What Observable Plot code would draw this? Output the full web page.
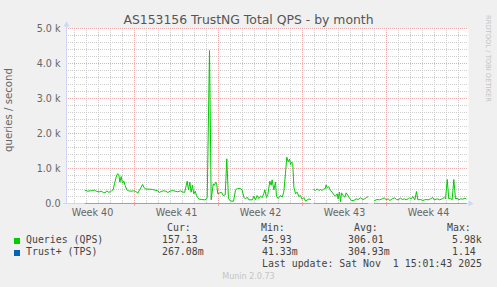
<!DOCTYPE html>
<html><head><meta charset="utf-8">
<script src="https://cdn.jsdelivr.net/npm/d3@7"></script>
<script src="https://cdn.jsdelivr.net/npm/@observablehq/plot@0.6"></script>
<style>
html,body{margin:0;padding:0;background:#f0f0f0;}
#wrap{position:relative;width:497px;height:287px;overflow:hidden;background:#f0f0f0;font-family:"DejaVu Sans",sans-serif;}
#chart{position:absolute;left:0;top:0;}
.t{position:absolute;white-space:pre;}
.m{font-family:"DejaVu Sans Mono",monospace;font-size:9.9px;line-height:12px;color:#444;}
</style></head><body><div id="wrap"><div id="chart"></div></div>
<script>
const title = "AS153156 TrustNG Total QPS - by month";
const yLabel = "queries / second";
const credit = "RRDTOOL / TOBI OETIKER";
const footer = "Munin 2.0.73";
const lastUpdate = "Last update: Sat Nov  1 15:01:43 2025";

// x in days since Monday Sep 29 2025 (start of Week 40)
const weekLabels = ["Week 40", "Week 41", "Week 42", "Week 43", "Week 44"];
const weekMid = [3.5, 10.5, 17.5, 24.5, 31.5];
const weekStarts = [7, 14, 21, 28];
const dayLines = [2,3,4,5,6,8,9,10,11,12,13,15,16,17,18,19,20,22,23,24,25,26,27,29,30,31,32,33,34];
const yTicks = [0, 1000, 2000, 3000, 4000, 5000];
const yTickLabels = ["0.0", "1.0 k", "2.0 k", "3.0 k", "4.0 k", "5.0 k"];
const yMinor = [200,400,600,800,1200,1400,1600,1800,2200,2400,2600,2800,3200,3400,3600,3800,4200,4400,4600,4800];

const qDay = [2.89,3.11,3.31,3.5,3.67,3.86,4.06,4.22,4.42,4.56,4.69,4.83,5.0,5.11,5.22,5.33,5.47,5.58,5.69,5.78,5.89,6.0,6.11,6.22,6.36,6.5,6.72,6.92,7.11,7.28,7.42,7.56,7.67,7.78,7.89,8.11,8.31,8.5,8.72,8.94,9.08,9.22,9.42,9.61,9.78,9.97,10.17,10.39,10.61,10.81,11.0,11.17,11.28,11.39,11.5,11.61,11.72,11.83,11.94,12.06,12.17,12.28,12.39,12.61,12.83,13.0,13.06,13.25,13.39,13.56,13.64,13.78,13.86,13.94,14.08,14.25,14.39,14.56,14.69,14.83,15.0,15.25,15.42,15.58,15.83,15.97,16.11,16.25,16.39,16.53,16.83,16.94,17.08,17.22,17.36,17.5,17.64,17.78,17.86,18.0,18.11,18.28,18.39,18.47,18.61,18.75,18.83,18.97,19.17,19.31,19.44,19.58,19.69,19.81,19.92,20.0,20.11,20.19,20.28,20.42,20.56,20.69,20.83,20.97,21.11,21.25,21.39,21.53,21.67,21.8,21.94,22.08,22.22,22.36,22.5,22.64,22.78,22.89,22.97,23.06,23.19,23.33,23.47,23.61,23.75,23.89,23.97,24.08,24.17,24.25,24.36,24.53,24.64,24.75,24.92,25.08,25.28,25.47,25.64,25.83,26.03,26.19,26.33,26.44,26.7,27.0,27.22,27.42,27.64,27.83,27.97,28.14,28.28,28.47,28.69,28.83,28.97,29.17,29.31,29.5,29.64,29.81,29.92,30.08,30.19,30.36,30.5,30.61,30.83,31.03,31.25,31.47,31.67,31.86,31.97,32.22,32.42,32.64,32.81,32.92,33.06,33.19,33.33,33.47,33.61,33.75,33.89,34.03,34.17,34.36,34.53,34.64];
const qVal = [371,352,362,371,381,343,333,352,314,305,362,324,333,371,390,562,752,848,829,610,771,581,638,514,390,362,352,362,343,295,390,467,543,467,419,410,410,400,381,362,314,343,362,352,314,352,371,352,333,362,333,314,467,638,390,610,324,524,276,352,229,162,124,114,105,124,181,4371,105,563,520,610,530,276,300,320,229,250,1277,143,70,66,391,430,430,380,181,130,181,105,105,210,105,229,140,210,170,290,391,170,260,638,520,676,390,610,210,143,229,181,324,848,1324,1190,1270,1114,1180,1140,467,276,324,200,229,120,170,66,100,130,115,NaN,400,371,420,371,400,371,420,420,533,440,480,371,324,250,210,276,133,324,50,305,229,181,305,248,152,86,86,133,114,162,114,133,171,190,NaN,86,114,105,133,162,105,133,86,133,162,114,105,152,114,133,105,133,162,133,200,105,343,105,114,86,114,105,133,171,105,133,105,133,171,133,686,133,152,105,686,133,152,105,133,124,152,133];

const tDay = [2.89, 8.0, 13.25, 18.0, 21.67, 21.8, 21.94, 26.44, 26.7, 27.0, 31.0, 34.64];
const tVal = [0.30, 0.28, 1.14, 0.35, 0.27, NaN, 0.31, 0.29, NaN, 0.27, 0.30, 0.27];

const seriesNames = ["Queries (QPS)", "Trust+ (TPS)"];
const seriesColors = ["#00cc00", "#0066b3"];
const statHeads = ["Cur:", "Min:", "Avg:", "Max:"];
const curVals = ["157.13", "267.08m"];
const minVals = ["45.93", "41.33m"];
const avgVals = ["306.01", "304.93m"];
const maxVals = ["5.98k", "1.14"];

const queries = qDay.map((d, i) => ({day: d, v: qVal[i]}));
const trust = tDay.map((d, i) => ({day: d, v: tVal[i]}));

const X0 = 4/3, X1 = 209/6;
const axisColor = "#CFD6F8";
const gridGray = "#cecece";
const gridRed = "#eeaaaa";

const chart = Plot.plot({
  width: 497, height: 222,
  marginTop: 28, marginBottom: 19, marginLeft: 66, marginRight: 29,
  style: {background: "transparent", fontFamily: '"DejaVu Sans", sans-serif', fontSize: "9.6px", color: "#666", overflow: "visible"},
  x: {domain: [X0, X1]},
  y: {domain: [0, 5000]},
  marks: [
    Plot.frame({fill: "#ffffff", stroke: "none"}),
    Plot.ruleX(dayLines, {stroke: gridGray, strokeDasharray: "1,1"}),
    Plot.ruleY(yMinor, {stroke: gridGray, strokeDasharray: "1,1"}),
    Plot.ruleX(weekStarts, {stroke: gridRed, strokeDasharray: "1,1"}),
    Plot.ruleY(yTicks.slice(1), {stroke: gridRed, strokeDasharray: "1,1"}),
    Plot.ruleX(weekStarts, {y1: 0, y2: -86, stroke: gridRed}),
    Plot.axisY({ticks: yTicks, tickSize: 0, tickPadding: 6, tickFormat: d => yTickLabels[yTicks.indexOf(d)], label: null, fill: "#666"}),
    Plot.axisX({ticks: weekMid, tickSize: 0, tickPadding: 6, tickFormat: d => weekLabels[weekMid.indexOf(d)], label: null, fill: "#666"}),
    Plot.ruleY([0], {x1: 1.083, x2: X1, stroke: axisColor}),
    Plot.ruleX([X0], {y1: 0, y2: 5057, stroke: axisColor}),
    Plot.dot([{x: 34.97, y: 0}], {x: "x", y: "y", symbol: "triangle", r: 2.2, rotate: 90, fill: axisColor, stroke: "none"}),
    Plot.dot([{x: X0, y: 5106}], {x: "x", y: "y", symbol: "triangle", r: 2.2, fill: axisColor, stroke: "none"}),
    Plot.line(trust, {x: "day", y: "v", stroke: seriesColors[1], strokeOpacity: 0.4, strokeWidth: 1}),
    Plot.line(queries, {x: "day", y: "v", stroke: seriesColors[0], strokeWidth: 1})
  ]
});
document.getElementById("chart").appendChild(chart);

const wrap = document.getElementById("wrap");
function addText(txt, cls, css) {
  const el = document.createElement("div");
  el.className = "t " + (cls || "");
  el.textContent = txt;
  Object.assign(el.style, css);
  wrap.appendChild(el);
  return el;
}
addText(title, "", {left: "0px", top: "12px", width: "497px", textAlign: "center", fontSize: "12.4px", lineHeight: "15px", color: "#555"});
addText(yLabel, "", {left: (9 - 100) + "px", top: (110 - 6) + "px", width: "200px", textAlign: "center", fontSize: "10.2px", lineHeight: "12px", color: "#666", transform: "rotate(-90deg)", transformOrigin: "50% 50%"});
addText(credit, "", {left: "492px", top: "15px", fontSize: "6.75px", lineHeight: "8px", color: "#c2c2c2", transform: "rotate(90deg)", transformOrigin: "0 0"});

const headX = [167, 261, 354, 447];
const valX = [162, 262, 348, 452];
statHeads.forEach((h, j) => addText(h, "m", {left: headX[j] + "px", top: "222px"}));
seriesNames.forEach((name, i) => {
  const top = 234 + 12 * i;
  const sq = document.createElement("div");
  Object.assign(sq.style, {position: "absolute", left: "14px", top: (top + 3.5) + "px", width: "6px", height: "6px", background: seriesColors[i]});
  wrap.appendChild(sq);
  addText(name, "m", {left: "26px", top: top + "px"});
  [curVals[i], minVals[i], avgVals[i], maxVals[i]].forEach((v, j) => addText(v, "m", {left: valX[j] + "px", top: top + "px"}));
});
addText(lastUpdate, "m", {left: "262px", top: "258px"});
addText(footer, "", {left: "0px", top: "271.5px", width: "497px", textAlign: "center", fontSize: "8px", lineHeight: "10px", color: "#c4c4c4"});
</script></body></html>
